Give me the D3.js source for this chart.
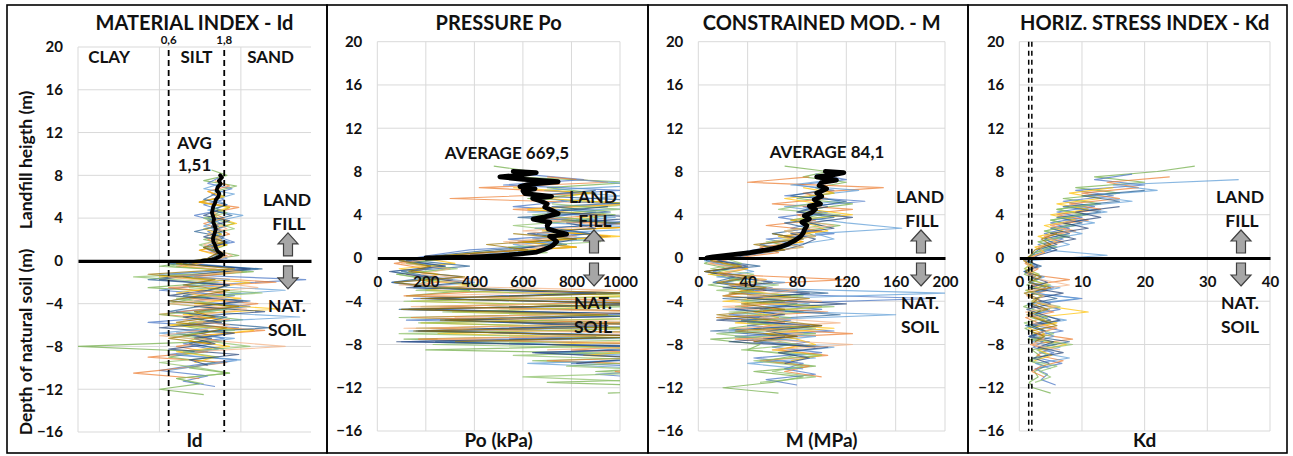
<!DOCTYPE html>
<html><head><meta charset="utf-8">
<script src="https://cdn.jsdelivr.net/npm/d3@7"></script>
<style>
body{margin:0;background:#fff}
svg{display:block}
text{font-family:Lato,"Open Sans",sans-serif;font-weight:bold;fill:#111}
</style>
</head><body>
<svg id="chart" width="1293" height="456"></svg>
<script>
// ---------- DATA ----------
const depthTicks = [-16, -12, -8, -4, 0, 4, 8, 12, 16, 20];
const idGridValues = [0.1, 0.5, 2.5];
const idBounds = [0.6, 1.8];
const idBoundLabels = ["0,6", "1,8"];
const poTicks = [0, 200, 400, 600, 800, 1000];
const mTicks = [0, 40, 80, 120, 160, 200];
const kdTicks = [0, 10, 20, 30, 40];
const kdBounds = [1.5, 2.0];

// DMT soundings: top depth (m, relative to natural ground) and reading step (m)
const soundingTops = [8.5, 7.75, 7.5, 7.25, 6.5, 6.25, 5.0, 4.75, 3.5, 2.25];
const readingStep = 0.5;
const soundingColors = ["#70AD47", "#4472C4", "#ED7D31", "#5B9BD5", "#FFC000", "#255E91", "#8CC168", "#264478", "#F4B183", "#997300"];

const idValues = [
  [1.4,1.9,1.2,2.3,1.5,1.8,1.1,2.0,1.6,1.3,2.2,1.5,1.7,1.2,1.9,1.4,2.4,1.1,0.5,3.2,0.8,1.6,0.4,2.5,1.0,0.6,1.9,0.9,2.6,0.7,1.3,0.8,1.7,0.1,1.2,0.6,1.5,0.9,2.0,0.7,1.1,0.5,1.2],
  [1.6,1.3,2.1,1.4,1.8,1.2,1.7,1.0,1.5,1.9,1.3,1.6,2.2,1.2,1.5,1.9,0.9,2.8,0.6,9.0,1.2,0.5,2.2,1.0,3.0,0.7,1.6,0.4,2.4,1.1,1.8,0.8,1.4,0.6,2.3,1.0,0.5,1.3,0.8,1.5],
  [1.5,2.0,1.3,1.7,1.1,2.4,1.4,1.8,1.2,1.6,2.0,1.3,1.7,1.1,1.9,1.4,0.7,2.6,1.0,5.0,0.6,1.8,0.9,3.5,1.2,0.5,2.0,0.8,4.0,1.0,1.6,0.7,1.3,0.4,1.9,0.8,0.3,1.1],
  [1.7,1.2,2.2,1.5,1.9,1.3,2.6,1.6,1.2,1.8,1.4,2.0,1.3,1.7,1.5,1.0,3.5,0.5,2.0,0.8,6.0,1.3,0.6,2.8,1.1,8.0,0.9,1.5,0.5,2.2,1.0,1.6,0.7,2.5,1.2,0.6],
  [1.3,1.8,1.1,2.0,1.4,1.6,2.3,1.2,1.7,1.4,1.9,1.1,1.6,1.3,0.8,2.4,0.5,3.0,1.5,0.7,2.5,1.0,5.5,0.8,1.7,0.6,3.2,1.2,0.9,2.0,0.7,1.5,1.0],
  [1.5,1.2,1.9,1.4,2.1,1.3,1.6,1.0,1.8,1.5,1.2,1.7,1.4,0.6,3.8,1.0,0.4,2.0,1.4,0.8,3.0,1.1,0.6,1.9,1.2,4.5,0.7,1.4,0.9,1.8],
  [1.4,1.9,1.2,1.6,2.2,1.3,1.7,1.1,1.5,1.8,1.2,0.6,2.8,0.3,1.5,0.9,3.8,0.7,1.4,2.5,0.5,1.2,0.8,2.2,0.6,1.3,3.0,0.8,1.6,0.5,1.1,2.0,0.7,1.2],
  [1.6,1.2,2.0,1.4,1.7,1.2,1.9,1.4,1.6,1.3,0.8,3.0,1.1,0.5,2.0,1.3,0.6,2.6,1.0,4.0,0.8,1.7,0.5,2.2,1.0,1.5,0.6,2.4,0.9,1.3],
  [1.5,1.9,1.3,1.7,1.2,1.6,2.1,1.4,0.9,2.5,0.6,1.6,3.5,0.9,1.8,0.6,2.8,1.2,0.8,2.0,1.1,0.5,1.7,6.0,1.0],
  [1.4,1.8,1.2,1.6,1.3,0.7,2.2,0.4,1.5,0.8,2.0,1.1,0.6,2.4,1.0,1.5,0.7,1.9,1.2,0.6,1.4]
];
const poValues = [
  [480,640,560,1050,700,900,620,1100,760,980,820,1150,700,950,600,820,420,260,120,300,80,240,150,380,120,1200,180,1300,90,1100,160,1400,110,1250,200,1500,640,1300,900,1600,700,1400,950],
  [600,850,520,1000,640,780,560,900,700,1100,650,880,540,760,380,220,90,260,140,350,60,200,900,150,1200,240,1050,120,1300,280,900,100,1400,650,1150,800,1350,900,1200,1000],
  [700,950,420,880,300,1050,560,920,640,1150,700,960,580,820,450,230,70,200,120,310,180,520,110,1100,260,1250,140,1000,220,1350,170,1200,800,1450,700,1300,980,1200],
  [820,1100,690,1000,760,1250,620,980,700,1150,660,900,560,700,350,110,280,60,220,400,150,1050,230,1300,100,900,260,1200,130,1400,300,1100,750,1350,620,1150],
  [560,880,700,1050,620,940,760,1200,680,1000,600,820,400,180,320,90,250,170,380,200,1100,140,950,310,1250,180,1050,250,1300,700,1150,850,1400],
  [900,640,1150,720,960,580,1000,720,880,640,780,480,250,150,380,100,230,60,300,1000,200,1150,90,1300,280,850,160,1200,240,1100],
  [720,1000,640,880,560,760,680,920,540,700,300,130,330,80,210,420,160,1200,110,1050,270,1300,170,1100,90,1250,230,1400,560,1200,780,1300,600,1150],
  [950,700,1100,780,900,620,820,700,560,320,120,280,50,190,350,120,900,210,1100,130,1250,300,950,170,1200,80,1350,640,1100,820],
  [680,950,600,820,520,700,460,240,100,300,180,420,90,1000,200,1250,140,1100,320,1300,110,1150,250,1400,700],
  [560,820,450,620,280,90,220,130,360,70,250,1050,180,1200,100,950,260,1300,150,1150,320]
];
const mValues = [
  [70,105,85,120,95,110,80,125,90,100,75,115,85,95,60,70,40,15,5,25,10,35,8,45,20,70,30,85,15,60,25,95,10,50,40,80,55,95,45,85,60,20,65],
  [95,120,80,110,70,135,85,100,65,95,75,110,55,80,45,25,8,30,12,45,20,60,35,190,50,100,25,75,40,110,30,90,60,100,45,85,70,95,55,80],
  [90,40,150,85,105,60,125,80,95,55,100,70,85,50,65,30,10,40,18,120,30,55,20,80,35,105,15,70,45,125,30,85,65,105,50,90,70,100],
  [110,75,130,90,115,70,105,85,120,165,95,110,80,60,35,5,25,45,15,70,30,200,55,90,20,160,40,75,25,95,50,110,70,95,40,85],
  [85,110,70,100,90,125,75,95,105,65,85,60,40,10,20,40,8,55,25,35,75,20,100,45,65,30,110,55,80,95,60,100,75],
  [100,75,120,95,80,110,70,90,60,85,50,70,25,15,50,5,30,12,40,105,20,80,50,115,35,90,10,70,45,95],
  [90,65,115,80,100,70,95,55,85,45,20,35,10,45,25,65,15,85,35,110,25,75,40,95,15,55,80,35,100,45,85,60,95,50],
  [105,80,125,90,110,75,95,85,70,40,15,40,5,30,60,20,90,40,120,30,70,15,100,55,80,25,105,65,90,70],
  [80,110,70,95,60,85,50,20,8,35,15,55,25,80,40,100,20,70,50,115,30,85,45,125,60],
  [60,85,45,70,30,10,35,5,45,15,55,25,90,35,70,15,60,100,30,80,45]
];
const kdValues = [
  [28,22,12,20,9,16,7,13,6,11,5,9,4,8,3,6,2.5,1.5,1.0,2.2,0.8,3.0,1.2,4.0,1.5,2.8,0.7,3.5,1.8,5.0,0.9,2.5,1.4,6.0,2.0,3.2,1.5,4.2,2.4,3.0,1.6,2.2,5.0],
  [18,12,20,9,15,7,12,6,10,5,8,4,7,3,5,2,1.2,2.5,0.9,3.5,1.6,5.5,2.0,10,3.0,6.5,1.8,4.0,2.6,7.0,1.5,3.8,2.2,5.5,3.0,6.8,2.5,4.5,3.5,5.8],
  [24,14,19,10,16,8,13,6,11,5,9,4,7,3,4,1.5,1.0,3.0,1.4,8.0,2.0,4.5,1.2,3.5,2.2,5.5,1.0,3.0,6.0,2.5,8.5,1.8,4.5,2.8,7.0,3.5,2.0,4.0],
  [35,15,22,11,18,9,14,7,12,6,10,5,8,4,14,1.2,2.8,0.7,4.0,1.5,6.5,2.2,9.5,1.6,4.8,2.5,7.5,1.2,3.8,5.5,2.0,6.5,3.2,8.0,2.6,5.0],
  [15,8,13,6,11,5,9,4,7,3,6,2.5,4,1.0,2.2,0.9,3.0,1.8,4.5,1.2,3.5,2.0,5.0,11,2.5,6.0,1.5,4.0,2.8,7.5,3.0,5.2,2.4],
  [20,10,16,7,13,6,10,5,8,4,6,3,2.0,1.0,3.5,0.8,2.5,1.5,4.2,2.0,6.0,1.3,3.5,2.5,5.0,1.0,4.0,2.2,8.0,3.0],
  [12,6,10,5,8,4,7,3,5,2.5,1.3,2.0,0.8,3.2,1.5,5.0,1.0,3.8,2.0,6.5,1.4,4.5,0.8,3.0,5.5,2.0,8.5,2.8,4.5,1.8,6.0,3.2,5.0,2.5],
  [16,9,13,7,11,5,9,4,6,3,1.5,3.0,0.9,2.0,4.5,1.6,7.0,2.5,5.0,1.2,3.8,6.5,2.0,4.2,1.6,5.5,3.0,7.0,2.2,4.8],
  [9,5,8,4,6,3,4,1.4,0.9,2.5,1.2,3.5,8.0,1.5,4.0,2.2,6.0,1.0,3.2,2.0,5.5,2.8,4.0,1.8,6.5],
  [6,3.5,5,2.5,1.8,0.7,2.2,1.0,3.5,1.5,5.0,0.8,3.0,2.0,4.5,1.2,3.5,6.0,1.8,4.0,2.5]
];

// average profiles in the landfill
const avgIdDepths = [8.0,7.8,7.5,7.2,6.9,6.6,6.3,6.0,5.7,5.4,5.1,4.8,4.5,4.2,3.9,3.6,3.3,3.0,2.7,2.4,2.1,1.8,1.5,1.2,0.9,0.6,0.4,0.2,0.05,0.0];
const avgIdValues = [1.66,1.72,1.62,1.68,1.58,1.55,1.63,1.60,1.52,1.50,1.45,1.43,1.41,1.44,1.47,1.45,1.49,1.52,1.50,1.47,1.44,1.45,1.50,1.53,1.58,1.72,1.65,1.50,1.30,1.16];
const avgPoDepths = [8.0,7.9,7.7,7.5,7.3,7.05,6.8,6.6,6.4,6.2,5.95,5.7,5.5,5.3,5.0,4.7,4.4,4.1,3.8,3.6,3.3,3.0,2.7,2.4,2.2,2.0,1.7,1.5,1.2,1.0,0.8,0.55,0.35,0.25,0.15,0.08,0.0];
const avgPoValues = [560,655,600,505,590,745,620,588,650,600,608,718,640,670,700,690,720,745,690,642,711,700,703,745,780,710,730,739,725,711,690,657,580,519,450,382,200];
const avgMDepths = [8.0,7.9,7.7,7.5,7.2,7.0,6.7,6.4,6.0,5.7,5.4,5.0,4.8,4.5,4.2,3.9,3.6,3.3,3.0,2.6,2.3,2.0,1.6,1.3,1.0,0.8,0.5,0.3,0.1,0.0];
const avgMValues = [103,118,110,96,112,100,98,104,96,100,94,99,90,95,92,86,90,84,88,86,85,83,78,73,66,58,42,28,12,7];

const panelTitles = ["MATERIAL INDEX - Id", "PRESSURE Po", "CONSTRAINED MOD. - M", "HORIZ. STRESS INDEX - Kd"];
const axisTitles = ["Id", "Po (kPa)", "M (MPa)", "Kd"];
const averageLabels = [["AVG", "1,51"], ["AVERAGE 669,5"], ["AVERAGE 84,1"], null];
const soilClassLabels = ["CLAY", "SILT", "SAND"];
const soilClassPositions = [0.185, 1.04, 4.5];
const yAxisTitles = ["Landfill heigth (m)", "Depth of natural soil (m)"];

// ---------- LAYOUT ----------
const svg = d3.select("#chart");
const defs = svg.append("defs");

const panels = [
  {box:[7,5,327,453], plot:{l:78,r:311,t:47,b:432}, x:d3.scaleLog().domain([0.1,10]), grid:idGridValues, ticks:null,
   values:idValues, avgD:avgIdDepths, avgV:avgIdValues, annX:287, avgY:[148.5,170.5], avgX:194.5},
  {box:[327,5,648,453], plot:{l:377.3,r:620,t:41.7,b:431}, x:d3.scaleLinear().domain([0,1000]), grid:poTicks, ticks:poTicks,
   values:poValues, avgD:avgPoDepths, avgV:avgPoValues, annX:593, avgY:[158.5], avgX:507},
  {box:[648,5,968,453], plot:{l:698.3,r:945,t:41.7,b:431}, x:d3.scaleLinear().domain([0,200]), grid:mTicks, ticks:mTicks,
   values:mValues, avgD:avgMDepths, avgV:avgMValues, annX:920, avgY:[157.5], avgX:827},
  {box:[968,5,1287,453], plot:{l:1019.3,r:1270,t:41.7,b:431}, x:d3.scaleLinear().domain([0,40]), grid:kdTicks, ticks:kdTicks,
   values:kdValues, avgD:null, avgV:null, annX:1240, avgY:null}
];

function arrowPath(cx, y1, y2, up) {
  const hw = 10, sw = 4.5, hh = 11;
  if (up) return `M${cx},${y1}L${cx+hw},${y1+hh}L${cx+sw},${y1+hh}L${cx+sw},${y2}L${cx-sw},${y2}L${cx-sw},${y1+hh}L${cx-hw},${y1+hh}Z`;
  return `M${cx},${y2}L${cx+hw},${y2-hh}L${cx+sw},${y2-hh}L${cx+sw},${y1}L${cx-sw},${y1}L${cx-sw},${y2-hh}L${cx-hw},${y2-hh}Z`;
}

panels.forEach((p, pi) => {
  const g = svg.append("g");
  const P = p.plot;
  const x = p.x.range([P.l, P.r]);
  const y = d3.scaleLinear().domain([-16, 20]).range([P.b, P.t]);
  const y0 = y(0);

  // panel frame
  g.append("rect").attr("x", p.box[0]).attr("y", p.box[1])
    .attr("width", p.box[2]-p.box[0]).attr("height", p.box[3]-p.box[1])
    .attr("fill", "none").attr("stroke", "#000").attr("stroke-width", 1.6);

  // gridlines
  g.append("g").selectAll("line").data(depthTicks.filter(d => d !== 0)).join("line")
    .attr("x1", P.l).attr("x2", P.r).attr("y1", d => y(d)).attr("y2", d => y(d))
    .attr("stroke", "#d9d9d9").attr("stroke-width", 1);
  g.append("g").selectAll("line").data(p.grid).join("line")
    .attr("x1", d => x(d)).attr("x2", d => x(d)).attr("y1", P.t).attr("y2", P.b)
    .attr("stroke", "#d9d9d9").attr("stroke-width", 1);

  // y axis labels
  const yAxis = g.append("g").attr("transform", `translate(${P.l},0)`)
    .call(d3.axisLeft(y).tickValues(depthTicks).tickSize(0).tickPadding(15).tickFormat(d3.format("d")));
  yAxis.select(".domain").remove();
  yAxis.selectAll("text").attr("font-family", "Lato").attr("font-size", 15).attr("font-weight", "bold").attr("fill", "#111");

  // traces (clipped to plot area)
  const clipId = "clip" + pi;
  defs.append("clipPath").attr("id", clipId).append("rect")
    .attr("x", P.l).attr("y", P.t).attr("width", P.r - P.l).attr("height", P.b - P.t);
  const traces = g.append("g").attr("clip-path", `url(#${clipId})`);
  p.values.forEach((vals, si) => {
    const pts = vals.map((v, i) => [v, soundingTops[si] - i * readingStep]);
    traces.append("path").datum(pts)
      .attr("d", d3.line().x(d => x(d[0])).y(d => y(d[1])))
      .attr("fill", "none").attr("stroke", soundingColors[si])
      .attr("stroke-width", 1.15).attr("stroke-opacity", 0.72).attr("stroke-linejoin", "round");
  });

  // zero (ground level) axis line
  const xAxis = g.append("g").attr("transform", `translate(0,${y0})`)
    .call(d3.axisBottom(x).tickValues(p.ticks || []).tickSize(0).tickPadding(18).tickFormat(d3.format("d")));
  xAxis.select(".domain").attr("stroke", "#000").attr("stroke-width", 3.2);
  xAxis.selectAll("text").attr("font-family", "Lato").attr("font-size", 15).attr("font-weight", "bold").attr("fill", "#111");

  // average profile
  if (p.avgD) {
    const pts = p.avgD.map((d, i) => [p.avgV[i], d]);
    g.append("path").datum(pts)
      .attr("d", d3.line().x(d => x(d[0])).y(d => y(d[1])))
      .attr("fill", "none").attr("stroke", "#000").attr("stroke-width", pi === 0 ? 3.8 : 4.8)
      .attr("stroke-linejoin", "round").attr("stroke-linecap", "round");
  }

  // titles
  g.append("text").attr("x", (P.l + P.r) / 2).attr("y", 29.5)
    .attr("text-anchor", "middle").attr("font-size", 20).text(panelTitles[pi]);
  g.append("text").attr("x", (P.l + P.r) / 2).attr("y", 447)
    .attr("text-anchor", "middle").attr("font-size", 19).text(axisTitles[pi]);

  // average labels
  if (averageLabels[pi]) {
    averageLabels[pi].forEach((t, k) => {
      g.append("text").attr("x", p.avgX).attr("y", p.avgY[k])
        .attr("text-anchor", "middle").attr("font-size", 17).text(t);
    });
  }

  // LAND FILL / NAT. SOIL annotations with block arrows
  const ax = p.annX;
  g.append("text").attr("x", ax).attr("y", y0 - 55).attr("text-anchor", "middle").attr("font-size", 17.5).text("LAND");
  g.append("text").attr("x", ax + 2).attr("y", y0 - 31).attr("text-anchor", "middle").attr("font-size", 17.5).text("FILL");
  g.append("text").attr("x", ax).attr("y", y0 + 51).attr("text-anchor", "middle").attr("font-size", 17.5).text("NAT.");
  g.append("text").attr("x", ax).attr("y", y0 + 75).attr("text-anchor", "middle").attr("font-size", 17.5).text("SOIL");
  g.append("path").attr("d", arrowPath(ax + 1, y0 - 28, y0 - 5, true))
    .attr("fill", "#a6a6a6").attr("stroke", "#404040").attr("stroke-width", 1.2);
  g.append("path").attr("d", arrowPath(ax + 1, y0 + 5, y0 + 28, false))
    .attr("fill", "#a6a6a6").attr("stroke", "#404040").attr("stroke-width", 1.2);

  // panel-specific extras
  if (pi === 0) {
    g.selectAll(".bound").data(idBounds).join("line")
      .attr("x1", d => x(d)).attr("x2", d => x(d)).attr("y1", P.t + 3).attr("y2", P.b)
      .attr("stroke", "#000").attr("stroke-width", 1.8).attr("stroke-dasharray", "6,4");
    g.selectAll(".blabel").data(idBounds).join("text")
      .attr("x", d => x(d)).attr("y", 43.5).attr("text-anchor", "middle").attr("font-size", 11.5)
      .text((d, i) => idBoundLabels[i]);
    g.selectAll(".cls").data(soilClassLabels).join("text")
      .attr("x", (d, i) => x(soilClassPositions[i])).attr("y", 62.5).attr("text-anchor", "middle").attr("font-size", 17)
      .text(d => d);
    // y-axis titles
    g.append("text").attr("transform", `translate(32,160) rotate(-90)`)
      .attr("text-anchor", "middle").attr("font-size", 17.5).text(yAxisTitles[0]);
    g.append("text").attr("transform", `translate(32,342) rotate(-90)`)
      .attr("text-anchor", "middle").attr("font-size", 17.5).text(yAxisTitles[1]);
  }
  if (pi === 3) {
    g.selectAll(".kdb").data(kdBounds).join("line")
      .attr("x1", d => x(d)).attr("x2", d => x(d)).attr("y1", P.t).attr("y2", P.b)
      .attr("stroke", "#000").attr("stroke-width", 1.5).attr("stroke-dasharray", "5,4");
  }
});
</script>
</body></html>
